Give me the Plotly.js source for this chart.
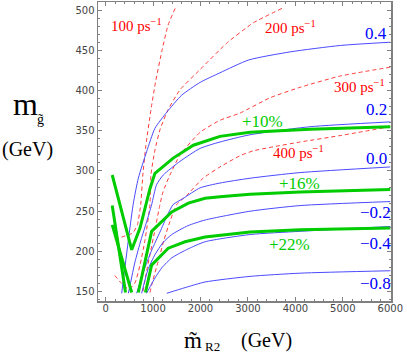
<!DOCTYPE html>
<html>
<head>
<meta charset="utf-8">
<script src="https://cdn.plot.ly/plotly-3.0.1.min.js"></script>
<style>html,body{margin:0;padding:0;background:#fff;}#chart{width:407px;height:353px;}</style>
</head>
<body>
<div id="chart"></div>
<script>
// ---- data ----
const xTickVals = [0, 1000, 2000, 3000, 4000, 5000, 6000];
const yTickVals = [150, 200, 250, 300, 350, 400, 450, 500];

// blue contours (labels 0.4 ... -0.8)
const blueLabels = ["0.4", "0.2", "0.0", "\u22120.2", "\u22120.4", "\u22120.8"];
const b04x = [340, 580, 690, 865, 1040, 1290, 1600, 1990, 2410, 3020, 3890, 4950, 6000];
const b04y = [148, 258, 291, 324, 353, 373, 394, 410, 422, 438, 448, 456, 460];
const b02x = [480, 620, 745, 865, 970, 1075, 1215, 1570, 1990, 2410, 3045, 4310, 6000];
const b02y = [148, 187, 214, 237, 258, 283, 295, 312, 328, 336, 345, 355, 361];
const b00x = [655, 830, 975, 1145, 1295, 1420, 1640, 1990, 2410, 3045, 4100, 6000];
const b00y = [148, 180, 202, 224, 244, 258, 266, 279, 285, 291, 298, 305];
const bm02x = [760, 890, 1040, 1210, 1395, 1735, 2095, 3045, 4100, 6000];
const bm02y = [148, 177, 196, 211, 221, 232, 239, 250, 257, 262];
const bm04x = [865, 955, 1040, 1190, 1395, 1735, 2095, 3045, 4100, 6000];
const bm04y = [148, 158, 167, 180, 192, 203, 212, 221, 225, 231];
const bm08x = [1290, 1675, 2095, 3045, 4100, 6000];
const bm08y = [148, 155, 162, 169, 173, 176];

// red dashed contours (ps^-1)
const redLabels = ["100", "200", "300", "400"];
const r100x = [1465, 1315, 1190, 1060, 955, 850, 785, 740, 670, 575, 450, 135];
const r100y = [502, 481, 450, 413, 376, 332, 295, 258, 233, 223, 220, 214];
const r200x = [3715, 3110, 2555, 1990, 1570, 1315, 1145, 1040, 955, 935, 830, 725, 620, 490, 325, 155];
const r200y = [502, 484, 459, 426, 401, 376, 351, 326, 295, 258, 214, 183, 161, 153, 161, 173];
const r300x = [6000, 4945, 4100, 3465, 2835, 2410, 1990, 1570, 1355, 1210, 1145, 1040, 935, 850, 785];
const r300y = [429, 418, 404, 391, 372, 363, 348, 320, 295, 274, 258, 227, 196, 171, 149];
const r400x = [6000, 4945, 4100, 3530, 3110, 2835, 2410, 2055, 1715, 1495, 1355, 1230, 1105, 1000, 935];
const r400y = [355, 344, 336, 330, 325, 319, 305, 291, 270, 258, 237, 214, 187, 165, 149];

// green thick contours (+10%, +16%, +22%)
const greenLabels = ["+10%", "+16%", "+22%"];
const gAx = [140, 550, 725, 880, 935, 1040, 1425, 1850, 2410, 3045, 4310, 6000];
const gAy = [295, 202, 229, 264, 278, 297, 316, 332, 343, 348, 352, 355];
const gBx = [140, 420, null, 690, 970, 1395, 1745, 2095, 2410, 3045, 4100, 6000];
const gBy = [257, 149, null, 149, 225, 249, 260, 266, 268, 271, 274, 277];
const gCx = [140, 550, null, 840, 970, 1320, 1675, 2095, 3045, 4100, 6000];
const gCy = [233, 149, null, 149, 183, 204, 212, 218, 224, 227, 229];

// ---- styling ----
const BLUE = "#4a4aff", RED = "#ff3b3b", GREEN = "#00cc00";
const serif = "Liberation Serif";

function blue(x, y) {
  return {x, y, type: "scatter", mode: "lines",
    line: {color: BLUE, width: 1, shape: "spline", smoothing: 0.6}, hoverinfo: "skip"};
}
function red(x, y) {
  return {x, y, type: "scatter", mode: "lines",
    line: {color: RED, width: 1, dash: "4px,3px", shape: "spline", smoothing: 0.5}, hoverinfo: "skip"};
}
function green(x, y) {
  return {x, y, type: "scatter", mode: "lines", connectgaps: false,
    line: {color: GREEN, width: 3}, hoverinfo: "skip"};
}

const traces = [
  red(r100x, r100y), red(r200x, r200y), red(r300x, r300y), red(r400x, r400y),
  blue(b04x, b04y), blue(b02x, b02y), blue(b00x, b00y),
  blue(bm02x, bm02y), blue(bm04x, bm04y), blue(bm08x, bm08y),
  green(gAx, gAy), green(gBx, gBy), green(gCx, gCy)
];

// label anchor positions (data coords)
const blueLabPos = [[5705, 471], [5705, 377], [5705, 316], [5684, 248], [5684, 210], [5684, 160]];
const redLabPos = [[661, 481], [3890, 479], [5346, 406], [4057, 324]];
const greenLabPos = [[3299, 362], [4080, 285], [3869, 209]];

const annotations = [];
blueLabels.forEach((t, i) => annotations.push({x: blueLabPos[i][0], y: blueLabPos[i][1], xref: "x", yref: "y",
  text: t, showarrow: false, font: {family: serif, size: 17, color: "#0000ff"}}));
redLabels.forEach((t, i) => annotations.push({x: redLabPos[i][0], y: redLabPos[i][1], xref: "x", yref: "y",
  text: t + " ps<sup>\u22121</sup>", showarrow: false, font: {family: serif, size: 15, color: "#ff0000"}}));
greenLabels.forEach((t, i) => annotations.push({x: greenLabPos[i][0], y: greenLabPos[i][1], xref: "x", yref: "y",
  text: t, showarrow: false, font: {family: serif, size: 17, color: GREEN}}));

// axis titles placed by pixel
const L = 98, T = 2, W = 293, H = 299;
const px = p => (p - L) / W;
const py = p => (T + H - p) / H;
function pixText(text, x, y, size, anchor) {
  annotations.push({xref: "paper", yref: "paper", x: px(x), y: py(y), text, showarrow: false,
    xanchor: anchor || "center", yanchor: "middle", font: {family: serif, size, color: "#000"}});
}
pixText("m", 25, 104, 32);
pixText("g\u0303", 40, 120, 14);
pixText("(GeV)", 27, 149, 20);
pixText("m\u0303", 193, 340, 23);
pixText("R2", 212.5, 346, 13);
pixText("(GeV)", 266, 340, 20);

const axisCommon = {
  showline: true, mirror: "allticks", linecolor: "#808080", linewidth: 1.5,
  ticks: "inside", ticklen: 4, tickwidth: 1, tickcolor: "#808080",
  showgrid: false, zeroline: false,
  tickfont: {family: "DejaVu Sans", size: 10, color: "#444"}
};

const layout = {
  width: 407, height: 353,
  margin: {l: L, r: 407 - L - W, t: T, b: 353 - T - H},
  paper_bgcolor: "#fff", plot_bgcolor: "#fff",
  showlegend: false, hovermode: false,
  xaxis: Object.assign({}, axisCommon, {range: [-160, 6015], tickmode: "array", tickvals: xTickVals,
    ticktext: xTickVals.map(String), ticklabelstandoff: -3,
    minor: {dtick: 200, tick0: 0, ticks: "inside", ticklen: 2, tickcolor: "#808080"}}),
  yaxis: Object.assign({}, axisCommon, {range: [138.4, 510], tickmode: "array", tickvals: yTickVals,
    ticktext: yTickVals.map(String),
    minor: {dtick: 10, tick0: 0, ticks: "inside", ticklen: 2, tickcolor: "#808080"}}),
  annotations
};

Plotly.newPlot("chart", traces, layout, {staticPlot: true, displayModeBar: false});
</script>
</body>
</html>
